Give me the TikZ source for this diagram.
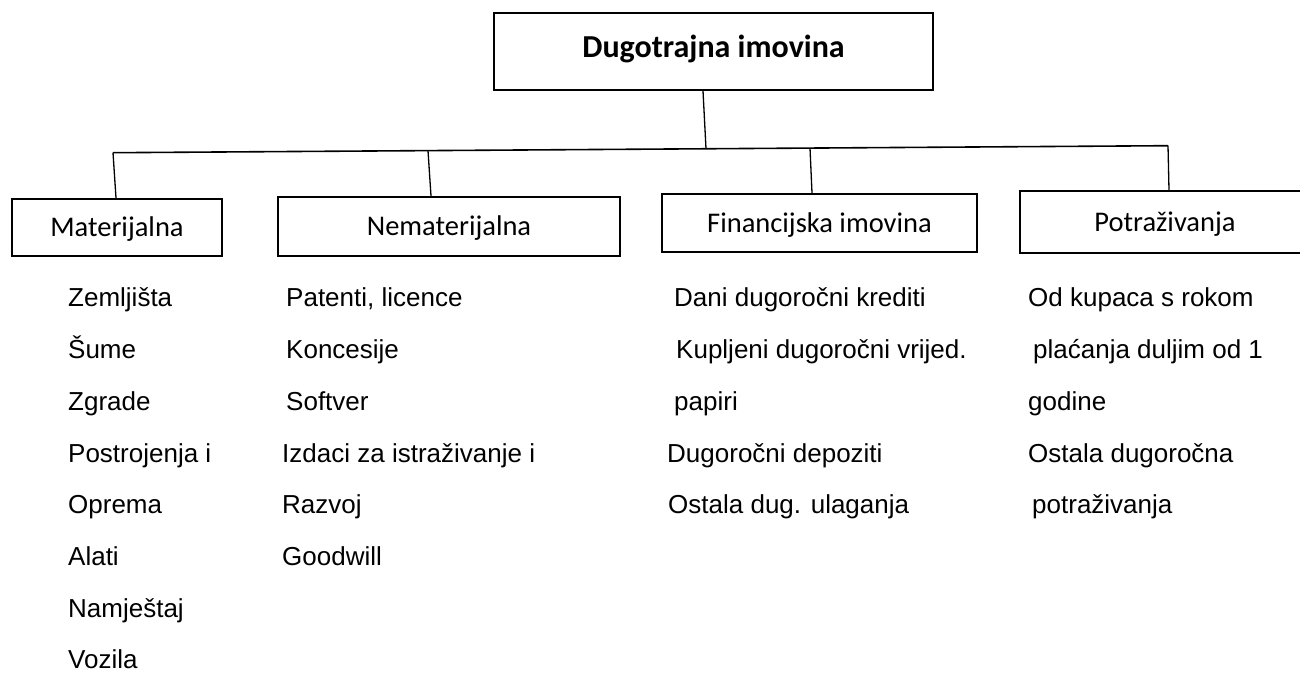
\documentclass[tikz,border=0pt]{standalone}
\usepackage{fontspec}
\setmainfont{Liberation Sans}
\newfontfamily\calibri{Carlito}
\tikzset{
  box/.style={draw, line width=2pt, inner sep=0pt, font=\calibri\fontsize{28.5}{34}\selectfont, text height=20pt, text depth=1.5pt},
  titlebox/.style={box, font=\calibri\bfseries\fontsize{32}{38}\selectfont, text height=21pt, text depth=10pt},
  item/.style={anchor=base west, inner sep=0pt, font=\fontsize{26}{30}\selectfont},
  conn/.style={line width=1.3pt},
  bus/.style={line width=1.6pt}
}
\begin{document}
\begin{tikzpicture}[x=1pt,y=-1pt]
\useasboundingbox (0,0) rectangle (1300,672);
\clip (0,0) rectangle (1300,672);

\node[titlebox, minimum width=439pt, minimum height=77pt] (top) at (713.5,51.5) {Dugotrajna imovina};

\node[box, minimum width=210pt, minimum height=57pt] (mat) at (117,227.5) {Materijalna};
\node[box, minimum width=342pt, minimum height=59.5pt] (nem) at (449,226.7) {Nematerijalna};
\node[box, minimum width=315pt, minimum height=58pt] (fin) at (819.5,223) {Financijska imovina};
\node[box, minimum width=290pt, minimum height=61.5pt] (pot) at (1165,222) {Potraživanja};

\coordinate (bL) at (113,152.7);
\coordinate (bR) at (1168,145.7);
\coordinate (jT) at (706,148.8);
\coordinate (jN) at (428,150.8);
\coordinate (jF) at (810,148.1);

\draw[bus] (bL) -- (bR);
\draw[conn] ([xshift=-10.5pt]top.south) -- (jT);
\draw[conn] (bL) -- ([xshift=-1pt]mat.north);
\draw[conn] (jN) -- ([xshift=-18pt]nem.north);
\draw[conn] (jF) -- ([xshift=-7.5pt]fin.north);
\draw[conn] (bR) -- ([xshift=4pt]pot.north);

% Materijalna
\node[item] (m1) at (68,306) {Zemljišta};
\node[item] (m2) at (68,358) {Šume};
\node[item] (m3) at (68,410) {Zgrade};
\node[item] (m4) at (68,462) {Postrojenja i};
\node[item] (m5) at (68,513) {Oprema};
\node[item] (m6) at (68,565) {Alati};
\node[item] (m7) at (68,617) {Namještaj};
\node[item] (m8) at (68,668.5) {Vozila};

% Nematerijalna
\node[item] (n1) at (286,306) {Patenti, licence};
\node[item] (n2) at (286,358) {Koncesije};
\node[item] (n3) at (286,410) {Softver};
\node[item] (n4) at (282,462) {Izdaci za istraživanje i};
\node[item] (n5) at (282,513) {Razvoj};
\node[item] (n6) at (282,565) {Goodwill};

% Financijska
\node[item] (f1) at (674,306) {Dani dugoročni krediti};
\node[item] (f2) at (676,358) {Kupljeni dugoročni vrijed.};
\node[item] (f3) at (674,410) {papiri};
\node[item] (f4) at (667,462) {Dugoročni depoziti};
\node[item] (f5) at (668,513) {Ostala dug. ulaganja};

% Potrazivanja
\node[item] (p1) at (1028,306) {Od kupaca s rokom};
\node[item] (p2) at (1033,358) {plaćanja duljim od 1};
\node[item] (p3) at (1028,410) {godine};
\node[item] (p4) at (1028,462) {Ostala dugoročna};
\node[item] (p5) at (1032,513) {potraživanja};
\end{tikzpicture}
\end{document}
